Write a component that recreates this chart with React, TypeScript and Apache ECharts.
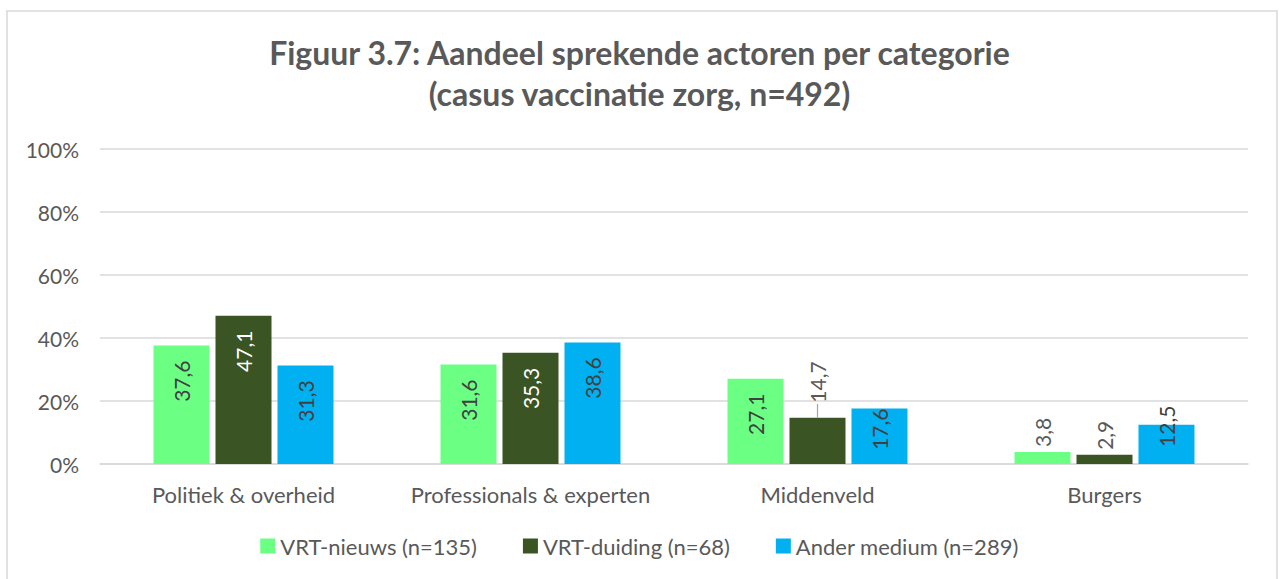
import React, { useEffect, useRef } from "react";
import * as echarts from "echarts";

const titleLines = ["Figuur 3.7: Aandeel sprekende actoren per categorie", "(casus vaccinatie zorg, n=492)"];
const categories = ["Politiek & overheid", "Professionals & experten", "Middenveld", "Burgers"];
const seriesNames = ["VRT-nieuws (n=135)", "VRT-duiding (n=68)", "Ander medium (n=289)"];
const vrtNieuws = [37.6, 31.6, 27.1, 3.8];
const vrtDuiding = [47.1, 35.3, 14.7, 2.9];
const anderMedium = [31.3, 38.6, 17.6, 12.5];
const yTicks = [0, 20, 40, 60, 80, 100];

const colors = ["#6BFF84", "#3A5424", "#00B0F0"];
const labelColors = ["#404040", "#FFFFFF", "#404040"];
const FONT = "Lato, 'Open Sans', sans-serif";

const fmt = (v: number) => v.toFixed(1).replace(".", ",");

function labelFor(seriesIdx: number, dataIdx: number, value: number) {
  const base = {
    show: true,
    rotate: 90,
    fontSize: 21,
    fontFamily: FONT,
    verticalAlign: "middle",
    formatter: () => fmt(value),
  } as any;
  if (value < 10) {
    return { ...base, position: "top", align: "left", distance: 5, color: "#595959" };
  }
  if (seriesIdx === 1 && dataIdx === 2) {
    return { ...base, position: "top", align: "left", distance: 15, color: "#595959" };
  }
  if (seriesIdx === 2 && dataIdx === 3) {
    return { ...base, position: "insideTop", align: "right", distance: -19, color: "#404040" };
  }
  if (seriesIdx === 2 && dataIdx === 2) {
    return { ...base, position: "insideTop", align: "right", distance: 0, color: "#404040" };
  }
  return { ...base, position: "insideTop", align: "right", distance: 15, color: labelColors[seriesIdx] };
}

export default function App() {
  const ref = useRef<HTMLDivElement>(null);
  useEffect(() => {
    if (!ref.current) return;
    const chart = echarts.init(ref.current, null, { renderer: "svg" });
    const allSeries = [vrtNieuws, vrtDuiding, anderMedium];
    chart.setOption({
      animation: false,
      backgroundColor: "#FFFFFF",
      title: {
        text: titleLines.join("\n"),
        left: "center",
        top: 27,
        textStyle: {
          fontFamily: FONT,
          fontSize: 32,
          fontWeight: "bold",
          color: "#595959",
          lineHeight: 41,
        },
      },
      graphic: [
        {
          type: "rect",
          shape: { x: 7, y: 11, width: 1270, height: 620 },
          style: { fill: "none", stroke: "#D9D9D9", lineWidth: 1.5 },
          silent: true,
        },
      ],
      legend: {
        bottom: 17,
        left: "center",
        itemWidth: 15,
        itemHeight: 15,
        itemGap: 46,
        icon: "rect",
        textStyle: { fontFamily: FONT, fontSize: 22, color: "#595959", padding: [0, 0, 0, 0] },
        data: seriesNames,
      },
      grid: { left: 100, right: 31, top: 149, bottom: 115, containLabel: false },
      xAxis: {
        type: "category",
        data: categories,
        axisLine: { show: true, lineStyle: { color: "#D9D9D9", width: 1.5 } },
        axisTick: { show: false },
        axisLabel: { fontFamily: FONT, fontSize: 22, color: "#595959", margin: 19, interval: 0 },
      },
      yAxis: {
        type: "value",
        min: yTicks[0],
        max: yTicks[yTicks.length - 1],
        interval: yTicks[1] - yTicks[0],
        axisLine: { show: false },
        axisTick: { show: false },
        splitLine: { lineStyle: { color: "#D9D9D9", width: 1.5 } },
        axisLabel: { fontFamily: FONT, fontSize: 21, color: "#595959", margin: 21, formatter: "{value}%" },
      },
      series: allSeries.map((vals, si) => ({
        type: "bar",
        name: seriesNames[si],
        barWidth: 56,
        barGap: "10.7%",
        itemStyle: { color: colors[si] },
        data: vals.map((v, di) => ({ value: v, label: labelFor(si, di, v) })),
        markLine:
          si === 1
            ? {
                silent: true,
                symbol: "none",
                label: { show: false },
                lineStyle: { color: "#A6A6A6", width: 1.2, type: "solid" },
                data: [[{ coord: [2, vals[2]] }, { coord: [2, vals[2] + 4.4] }]],
              }
            : undefined,
      })),
    });
    return () => chart.dispose();
  }, []);
  return <div ref={ref} style={{ position: "absolute", left: 0, top: 0, width: 1279, height: 579 }} />;
}
